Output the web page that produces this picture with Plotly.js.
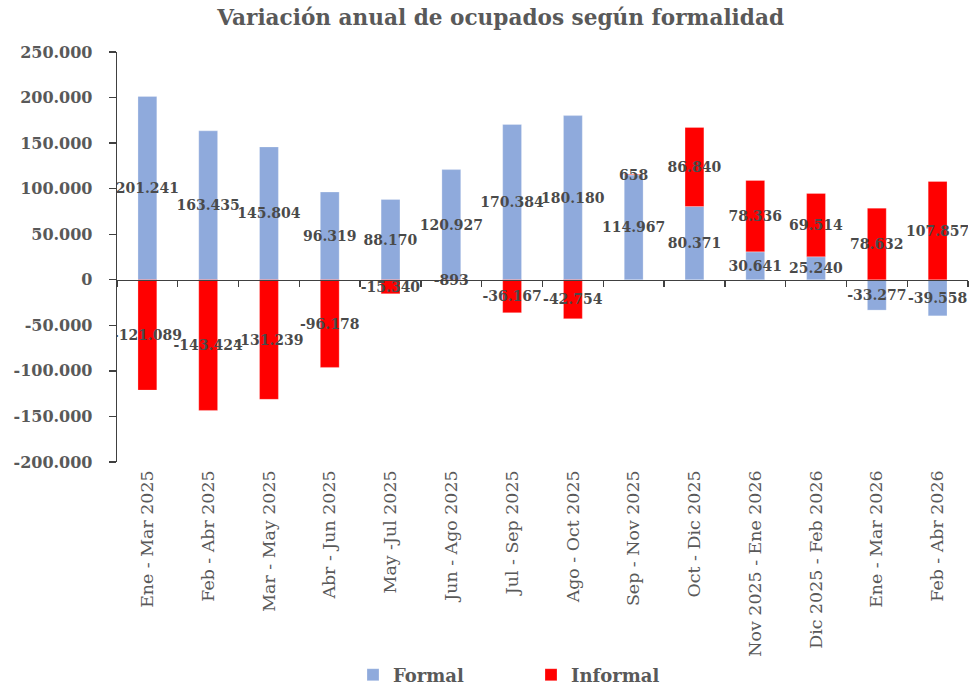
<!DOCTYPE html>
<html>
<head>
<meta charset="utf-8">
<script src="https://cdn.plot.ly/plotly-3.0.1.min.js"></script>
<style>html,body{margin:0;padding:0;background:#fff;}#chart{width:974px;height:689px;}</style>
</head>
<body>
<div id="chart"></div>
<script>
const categories = ["Ene - Mar 2025","Feb - Abr 2025","Mar - May 2025","Abr - Jun 2025","May -Jul 2025","Jun - Ago 2025","Jul - Sep 2025","Ago - Oct 2025","Sep - Nov 2025","Oct - Dic 2025","Nov 2025 - Ene 2026","Dic 2025 - Feb 2026","Ene - Mar 2026","Feb - Abr 2026"];
const formal = [201241,163435,145804,96319,88170,120927,170384,180180,114967,80371,30641,25240,-33277,-39558];
const informal = [-121089,-143424,-131239,-96178,-15340,-893,-36167,-42754,658,86840,78336,69514,78632,107857];
const yTicks = [250000,200000,150000,100000,50000,0,-50000,-100000,-150000,-200000];

function fmt(v){
  const s = Math.abs(v).toString().replace(/\B(?=(\d{3})+(?!\d))/g,".");
  return (v<0?"-":"")+s;
}
const FONT = "DejaVu Serif";
const GREY = "#595959";
const labelFont = {family: FONT, size: 14, color: "#4a4a4a", weight: "bold"};

const traces = [
  {type:"bar", name:"Formal", x:categories, y:formal, text:formal.map(fmt),
   textposition:"inside", insidetextanchor:"middle", textangle:0, constraintext:"none",
   textfont:labelFont, insidetextfont:labelFont, hoverinfo:"x+y",
   marker:{color:"#8FAADC", line:{color:"rgba(255,255,255,0.5)", width:0.5}}},
  {type:"bar", name:"Informal", x:categories, y:informal, text:informal.map(fmt),
   textposition:"inside", insidetextanchor:"middle", textangle:0, constraintext:"none",
   textfont:labelFont, insidetextfont:labelFont, hoverinfo:"x+y",
   marker:{color:"#FF0000", line:{color:"rgba(255,255,255,0.5)", width:0.5}}},
  {type:"scatter", x:[-0.5,categories.length-0.5], y:[0,0], xaxis:"x2", yaxis:"y",
   mode:"lines", line:{width:0, color:"rgba(0,0,0,0)"}, showlegend:false, hoverinfo:"skip"}
];
const yMin = -200000, yMax = 250000;
const boundaries = [];
for(let i=0;i<=categories.length;i++) boundaries.push(i-0.5);

const layout = {
  width:974, height:689,
  margin:{l:117, r:6, t:52, b:227, pad:0, autoexpand:false},
  paper_bgcolor:"#fff", plot_bgcolor:"#fff",
  barmode:"relative", bargap:0.69,
  showlegend:true,
  title:{text:"Variación anual de ocupados según formalidad", x:0.514, xref:"container", xanchor:"center",
         y:0.974, yref:"container", yanchor:"middle",
         font:{family:FONT, size:21.6, color:GREY, weight:"bold"}},
  font:{family:FONT, color:GREY},
  xaxis:{type:"category", range:[-0.5, categories.length-0.5], tickangle:-90, showline:false,
         ticks:"", showgrid:false, zeroline:false, automargin:false, ticklabelstandoff:4,
         tickfont:{family:FONT, size:17.4, color:GREY}},
  xaxis2:{overlaying:"x", anchor:"free", position:(0-yMin)/(yMax-yMin), range:[-0.5, categories.length-0.5],
          type:"linear", showline:true, linecolor:"#404040", linewidth:1.3, ticks:"outside", ticklen:6,
          tickcolor:"#404040", tickwidth:1.3, tickmode:"array", tickvals:boundaries, showticklabels:false,
          showgrid:false, zeroline:false},
  yaxis:{range:[yMin,yMax], tickmode:"array", tickvals:yTicks, ticktext:yTicks.map(fmt),
         showline:true, linecolor:"#404040", linewidth:1.3, ticks:"outside", ticklen:7,
         tickcolor:"#404040", tickwidth:1.3, showgrid:false, zeroline:false, automargin:false,
         ticklabelstandoff:13,
         tickfont:{family:FONT, size:16, color:GREY, weight:"bold"}},
  legend:{orientation:"h", xref:"container", x:353/974, xanchor:"left",
          yref:"container", y:1-675/689, yanchor:"middle",
          entrywidth:133, entrywidthmode:"pixels",
          font:{family:FONT, size:18, color:GREY, weight:"bold"}}
};
Plotly.newPlot("chart", traces, layout, {displayModeBar:false, staticPlot:true});
</script>
</body>
</html>
